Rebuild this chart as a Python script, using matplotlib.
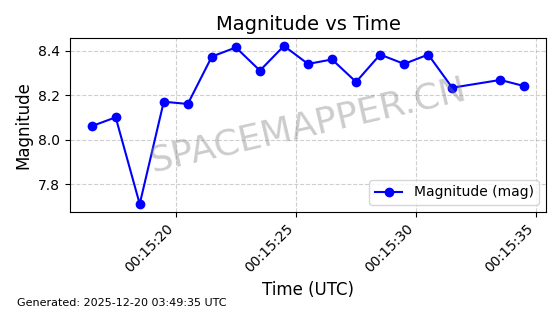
import matplotlib
matplotlib.use("Agg")
import matplotlib.pyplot as plt
import matplotlib.dates as mdates
import pandas as pd

times = ["00:15:16.5", "00:15:17.5", "00:15:18.5", "00:15:19.5", "00:15:20.5",
         "00:15:21.5", "00:15:22.5", "00:15:23.5", "00:15:24.5", "00:15:25.5",
         "00:15:26.5", "00:15:27.5", "00:15:28.5", "00:15:29.5", "00:15:30.5",
         "00:15:31.5", "00:15:33.5", "00:15:34.5"]
magnitudes = [8.06, 8.10, 7.71, 8.17, 8.16, 8.373, 8.414, 8.31, 8.421, 8.34,
              8.36, 8.259, 8.382, 8.34, 8.382, 8.233, 8.268, 8.24]

t = pd.to_datetime(["2025-12-20 " + s for s in times])

fig = plt.figure(figsize=(5.6, 3.14), dpi=100)
ax = fig.add_axes([0.125, 0.325, 0.85, 0.554])
ax.plot(t, magnitudes, marker="o", color="blue", linewidth=1.5, markersize=6,
        label="Magnitude (mag)")
ax.set_title("Magnitude vs Time", fontsize=14)
ax.set_xlabel("Time (UTC)", fontsize=12)
ax.set_ylabel("Magnitude", fontsize=12)
ax.xaxis.set_major_locator(mdates.SecondLocator(bysecond=[0, 5, 10, 15, 20, 25, 30, 35, 40, 45, 50, 55]))
ax.xaxis.set_major_formatter(mdates.DateFormatter("%H:%M:%S"))
plt.setp(ax.get_xticklabels(), rotation=45, ha="right")
ax.grid(True, linestyle="--", alpha=0.6)
ax.legend(loc="lower right")
ax.text(0.5, 0.5, "SPACEMAPPER.CN", transform=ax.transAxes, fontsize=26,
        color="gray", alpha=0.4, rotation=13, ha="center", va="center")
fig.text(0.03, 0.025, "Generated: 2025-12-20 03:49:35 UTC", fontsize=8)
fig.savefig("out.png", dpi=100)
